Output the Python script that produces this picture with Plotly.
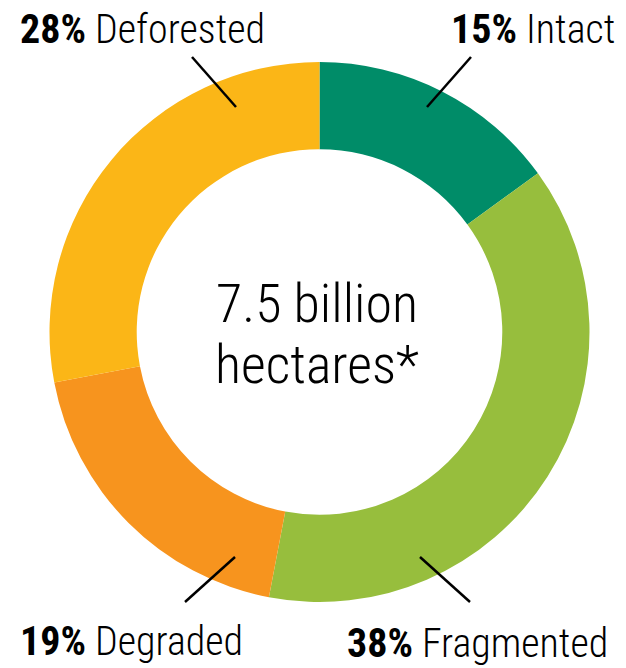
import plotly.graph_objects as go

# Data
categories = ["Intact", "Fragmented", "Degraded", "Deforested"]
shares = [15, 38, 19, 28]
colors = ["#008C68", "#97BE3D", "#F7941E", "#FBB617"]
center_lines = ["7.5 billion", "hectares*"]

W, H = 626, 668
FONT = "Roboto Condensed, Liberation Sans Narrow, DejaVu Sans Condensed, sans-serif"

# Pie geometry (pixels)
cx, cy, R = 319.5, 332, 270
hole = 0.677

def px(x):
    return x / W

def py(y):
    return 1 - y / H

fig = go.Figure(go.Pie(
    labels=categories,
    values=shares,
    sort=False,
    direction="clockwise",
    rotation=0,
    hole=hole,
    marker=dict(colors=colors, line=dict(width=0)),
    textinfo="none",
    hoverinfo="label+percent",
    showlegend=False,
    domain=dict(x=[px(cx - R), px(cx + R)], y=[py(cy + R), py(cy - R)]),
))

# Labels (x pixel, y pixel (middle), anchor)
label_pos = {
    "Deforested": (18, 30, "left"),
    "Intact": (617, 30, "right"),
    "Degraded": (18, 641, "left"),
    "Fragmented": (610, 643, "right"),
}
leaders = {
    "Deforested": ((192, 57), (236, 107)),
    "Intact": ((471, 57), (427, 107)),
    "Degraded": ((185, 602), (235, 557)),
    "Fragmented": ((420, 557), (470, 602)),
}

annotations = []
shapes = []
for cat, val in zip(categories, shares):
    x, y, anc = label_pos[cat]
    annotations.append(dict(
        x=px(x), y=py(y), xref="paper", yref="paper",
        xanchor=anc, yanchor="middle", showarrow=False,
        text=f"<b>{val}%</b> {cat}",
        font=dict(family=FONT, size=40, color="black", weight=300),
    ))
    (x0, y0), (x1, y1) = leaders[cat]
    shapes.append(dict(type="line", xref="paper", yref="paper",
                       x0=px(x0), y0=py(y0), x1=px(x1), y1=py(y1),
                       line=dict(color="black", width=2.5)))

for line, ymid in zip(center_lines, [303, 364]):
    annotations.append(dict(
        x=px(cx - 3), y=py(ymid), xref="paper", yref="paper",
        xanchor="center", yanchor="middle", showarrow=False,
        text=line,
        font=dict(family=FONT, size=54, color="black", weight=300),
    ))

fig.update_layout(
    width=W, height=H,
    margin=dict(l=0, r=0, t=0, b=0),
    paper_bgcolor="white", plot_bgcolor="white",
    annotations=annotations, shapes=shapes,
)

fig.write_html("out.html")
